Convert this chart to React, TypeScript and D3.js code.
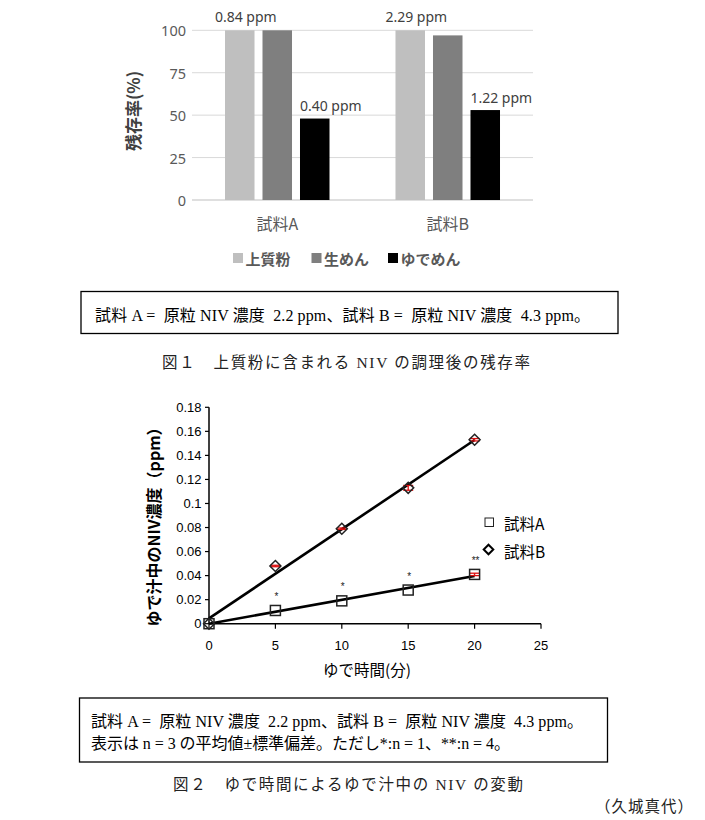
import React from 'react';
import * as d3 from 'd3';

// ---------- Figure 1 data ----------
const categories = ['試料A', '試料B'];
const seriesNames = ['上質粉', '生めん', 'ゆでめん'];
const flourValues = [100, 100];
const rawNoodleValues = [100, 97];
const boiledNoodleValues = [48, 53];
const flourPpmLabels = ['0.84 ppm', '2.29 ppm'];
const boiledPpmLabels = ['0.40 ppm', '1.22 ppm'];
const barTicks = [0, 25, 50, 75, 100];
const barColors = ['#bfbfbf', '#7f7f7f', '#000000'];

// ---------- Figure 2 data ----------
const boilMinutes = [0, 5, 10, 15, 20];
const sampleA = [0, 0.011, 0.019, 0.028, 0.041];
const sampleB = [0, 0.048, 0.079, 0.113, 0.153];
const errA = [0, 0, 0, 0, 0.001];
const errB = [0, 0.0006, 0.0006, 0.002, 0.001];
const notesA = ['', '*', '*', '*', '**'];
const yTicks2 = [0, 0.02, 0.04, 0.06, 0.08, 0.1, 0.12, 0.14, 0.16, 0.18];
const xTicks2 = [0, 5, 10, 15, 20, 25];

const caption1Box = '試料 A =  原粒 NIV 濃度  2.2 ppm、試料 B =  原粒 NIV 濃度  4.3 ppm。';
const caption1 = '図１　上質粉に含まれる NIV の調理後の残存率';
const caption2Box1 = '試料 A =  原粒 NIV 濃度  2.2 ppm、試料 B =  原粒 NIV 濃度  4.3 ppm。';
const caption2Box2 = '表示は n = 3 の平均値±標準偏差。ただし*:n = 1、**:n = 4。';
const caption2 = '図２　ゆで時間によるゆで汁中の NIV の変動';
const author = '（久城真代）';

const SANS = "'Noto Sans', 'Noto Sans CJK JP', sans-serif";
const JP = "'Noto Sans CJK JP', sans-serif";
const SERIF = "'Liberation Serif', 'Noto Sans CJK JP', serif";
const PLAIN = "'Liberation Sans', 'Noto Sans CJK JP', sans-serif";

function linreg(xs: number[], ys: number[]) {
  const mx = d3.mean(xs) as number;
  const my = d3.mean(ys) as number;
  let num = 0;
  let den = 0;
  xs.forEach((x, i) => {
    num += (x - mx) * (ys[i] - my);
    den += (x - mx) * (x - mx);
  });
  const slope = num / den;
  return { slope, intercept: my - slope * mx };
}

function BarChart() {
  const x0 = d3.scaleBand<string>().domain(categories).range([192, 533]);
  const x1 = d3
    .scaleBand<string>()
    .domain(seriesNames)
    .range([0, x0.bandwidth()])
    .paddingInner(0.213)
    .paddingOuter(0.88);
  const y = d3.scaleLinear().domain([0, 100]).range([200, 30.3]);
  const seriesValues = [flourValues, rawNoodleValues, boiledNoodleValues];

  return (
    <g>
      {barTicks.map((t) => (
        <g key={t}>
          <line x1={192} x2={533} y1={y(t)} y2={y(t)} stroke={t === 0 ? '#bfbfbf' : '#d9d9d9'} strokeWidth={1} />
          <text x={186} y={y(t)} textAnchor="end" dominantBaseline="central" fontFamily={SANS} fontSize={14.5} fill="#595959">
            {t}
          </text>
        </g>
      ))}
      {categories.map((c, ci) =>
        seriesNames.map((s, si) => {
          const v = seriesValues[si][ci];
          const bx = (x0(c) as number) + (x1(s) as number);
          return (
            <rect key={c + s} x={bx} y={y(v)} width={x1.bandwidth()} height={y(0) - y(v)} fill={barColors[si]} />
          );
        })
      )}
      {categories.map((c, ci) => {
        const bx0 = (x0(c) as number) + (x1(seriesNames[0]) as number) + x1.bandwidth() / 2;
        const bx2 = (x0(c) as number) + (x1(seriesNames[2]) as number) + x1.bandwidth() / 2;
        return (
          <g key={'lab' + c}>
            <text x={bx0 + 6} y={y(flourValues[ci]) - 14} textAnchor="middle" dominantBaseline="central" fontFamily={SANS} fontSize={14} fill="#404040">
              {flourPpmLabels[ci]}
            </text>
            <text x={bx2 + 16} y={y(boiledNoodleValues[ci]) - 13} textAnchor="middle" dominantBaseline="central" fontFamily={SANS} fontSize={14} fill="#404040">
              {boiledPpmLabels[ci]}
            </text>
            <text x={(x0(c) as number) + x0.bandwidth() / 2} y={223} textAnchor="middle" dominantBaseline="central" fontFamily={JP} fontSize={16} fill="#595959">
              {c}
            </text>
          </g>
        );
      })}
      <text
        transform="translate(132,111) rotate(-90)"
        textAnchor="middle"
        dominantBaseline="central"
        fontFamily={JP}
        fontSize={17}
        fontWeight="bold"
        fill="#404040"
      >
        残存率(%)
      </text>
      {/* legend */}
      {seriesNames.map((s, i) => {
        const lx = [233, 311.5, 388][i];
        return (
          <g key={'leg' + s}>
            <rect x={lx} y={253} width={10} height={10} fill={barColors[i]} />
            <text x={lx + 12.5} y={258} dominantBaseline="central" fontFamily={JP} fontSize={15} fontWeight="bold" fill="#595959">
              {s}
            </text>
          </g>
        );
      })}
    </g>
  );
}

function ScatterChart() {
  const x = d3.scaleLinear().domain([0, 25]).range([209, 541]);
  const y = d3.scaleLinear().domain([0, 0.18]).range([623.7, 407.3]);
  const fmt = (v: number) => String(+v.toFixed(2));
  const regA = linreg(boilMinutes, sampleA);
  const regB = linreg(boilMinutes, sampleB);
  const xEnd = d3.max(boilMinutes) as number;
  const trend = (reg: { slope: number; intercept: number }) =>
    d3
      .line<number>()
      .x((d) => x(d))
      .y((d) => y(reg.intercept + reg.slope * d))([0, xEnd]) as string;
  const red = '#e01010';
  const diamond = (cx: number, cy: number, r: number) =>
    `M${cx},${cy - r}L${cx + r},${cy}L${cx},${cy + r}L${cx - r},${cy}Z`;

  const errBar = (m: number, v: number, e: number, k: string) => (
    <g key={k} stroke={red} strokeWidth={1.3}>
      <line x1={x(m)} x2={x(m)} y1={y(v - e)} y2={y(v + e)} />
      <line x1={x(m) - 5} x2={x(m) + 5} y1={y(v - e)} y2={y(v - e)} />
      <line x1={x(m) - 5} x2={x(m) + 5} y1={y(v + e)} y2={y(v + e)} />
    </g>
  );

  return (
    <g>
      {/* axes */}
      <line x1={209} x2={209} y1={y(0.18)} y2={y(0)} stroke="#000" strokeWidth={1.5} />
      <line x1={209} x2={541} y1={y(0)} y2={y(0)} stroke="#000" strokeWidth={1.5} />
      {yTicks2.map((t) => (
        <g key={'yt' + t}>
          <line x1={205} x2={209} y1={y(t)} y2={y(t)} stroke="#000" strokeWidth={1.2} />
          <text x={201.5} y={y(t)} textAnchor="end" dominantBaseline="central" fontFamily={PLAIN} fontSize={13} fill="#000">
            {fmt(t)}
          </text>
        </g>
      ))}
      {xTicks2.map((t) => (
        <g key={'xt' + t}>
          <line x1={x(t)} x2={x(t)} y1={y(0)} y2={y(0) + 5} stroke="#000" strokeWidth={1.2} />
          <text x={x(t)} y={645} textAnchor="middle" dominantBaseline="central" fontFamily={PLAIN} fontSize={13} fill="#000">
            {t}
          </text>
        </g>
      ))}
      <text x={367} y={669} textAnchor="middle" dominantBaseline="central" fontFamily={JP} fontSize={15.5} fill="#000">
        ゆで時間(分)
      </text>
      <text
        transform="translate(153,523) rotate(-90)"
        textAnchor="middle"
        dominantBaseline="central"
        fontFamily={JP}
        fontSize={16}
        fontWeight="bold"
        fill="#000"
      >
        ゆで汁中のNIV濃度（ppm）
      </text>

      {/* trend lines */}
      <path d={trend(regB)} stroke="#000" strokeWidth={2.6} fill="none" />
      <path d={trend(regA)} stroke="#000" strokeWidth={2.6} fill="none" />

      {/* error bars */}
      {boilMinutes.map((m, i) => (
        <g key={'eb' + m}>
          {errB[i] > 0 && errBar(m, sampleB[i], errB[i], 'b' + m)}
          {errA[i] > 0 && errBar(m, sampleA[i], errA[i], 'a' + m)}
        </g>
      ))}

      {/* markers */}
      {boilMinutes.map((m, i) => (
        <g key={'mk' + m}>
          <rect x={x(m) - 5} y={y(sampleA[i]) - 5} width={10} height={10} fill="none" stroke="#222" strokeWidth={1.5} />
          <path d={diamond(x(m), y(sampleB[i]), 5.5)} fill="none" stroke="#222" strokeWidth={1.5} />
          {notesA[i] && (
            <text x={x(m) + 1} y={y(sampleA[i]) - 14} textAnchor="middle" dominantBaseline="central" fontFamily={PLAIN} fontSize={10} fill="#222">
              {notesA[i]}
            </text>
          )}
        </g>
      ))}

      {/* legend */}
      <rect x={485} y={518} width={8.5} height={8.5} fill="none" stroke="#222" strokeWidth={1} />
      <text x={504} y={523} dominantBaseline="central" fontFamily={JP} fontSize={15.5} fill="#000">
        試料A
      </text>
      <path d={diamond(488.5, 549.5, 4.8)} fill="none" stroke="#000" strokeWidth={2} />
      <text x={504} y={551} dominantBaseline="central" fontFamily={JP} fontSize={15.5} fill="#000">
        試料B
      </text>
    </g>
  );
}

export default function App() {
  const pre = { whiteSpace: 'pre' as const };
  return (
    <svg
      width={705}
      height={820}
      viewBox="0 0 705 820"
      style={{ position: 'absolute', left: 0, top: 0, background: '#fff' }}
    >
      <rect x={0} y={0} width={705} height={820} fill="#fff" />
      <BarChart />
      {/* caption box 1 */}
      <rect x={81} y={291.5} width={537} height={42} fill="none" stroke="#000" strokeWidth={1.3} />
      <text x={95} y={315} dominantBaseline="central" fontFamily={SERIF} fontSize={16} fill="#000" style={pre} textLength={495} lengthAdjust="spacing">
        {caption1Box}
      </text>
      <text x={162} y={362} dominantBaseline="central" fontFamily={SERIF} fontSize={15.5} fill="#222" textLength={368} lengthAdjust="spacing">
        {caption1}
      </text>

      <ScatterChart />

      {/* caption box 2 */}
      <rect x={79.5} y={698} width={528} height={64} fill="none" stroke="#000" strokeWidth={1.3} />
      <text x={91} y={721.5} dominantBaseline="central" fontFamily={SERIF} fontSize={16} fill="#000" style={pre} textLength={492} lengthAdjust="spacing">
        {caption2Box1}
      </text>
      <text x={91} y={743.5} dominantBaseline="central" fontFamily={SERIF} fontSize={16} fill="#000" textLength={419} lengthAdjust="spacing">
        {caption2Box2}
      </text>
      <text x={173} y={784} dominantBaseline="central" fontFamily={SERIF} fontSize={15.5} fill="#222" textLength={350} lengthAdjust="spacing">
        {caption2}
      </text>
      <text x={595} y={806} dominantBaseline="central" fontFamily={SERIF} fontSize={15.5} fill="#222" textLength={98} lengthAdjust="spacing">
        {author}
      </text>
    </svg>
  );
}
